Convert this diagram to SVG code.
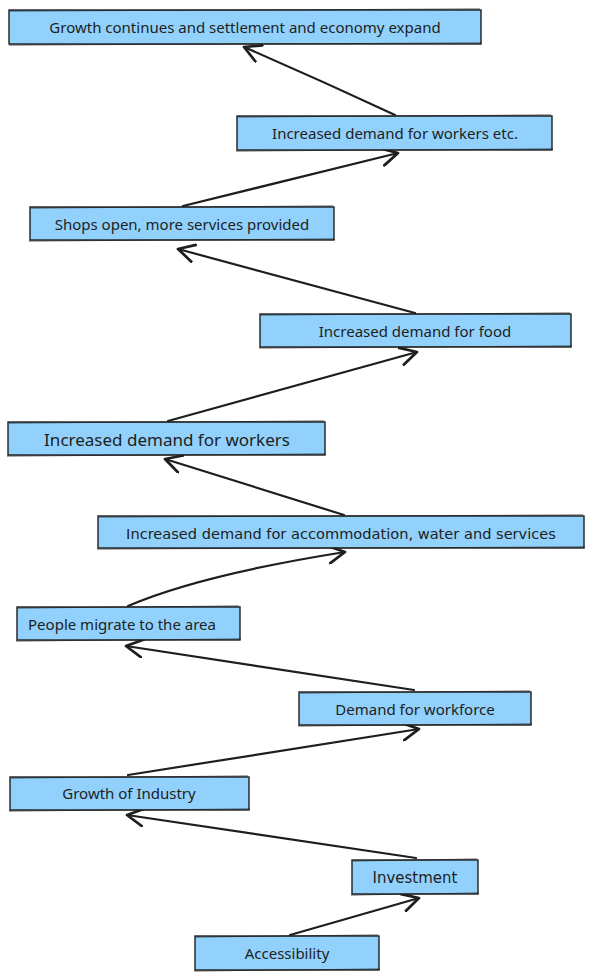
<svg xmlns="http://www.w3.org/2000/svg" width="594" height="980" viewBox="0 0 594 980">
<defs>
<style>
.box{fill:#91d1fb;stroke:#1e1e1e;stroke-width:1.4}
.sk{fill:none;stroke:#1e1e1e;stroke-width:0.8}
.t{font-family:"Noto Sans","Lato",sans-serif;font-size:15px;fill:#1e1e1e;text-anchor:middle;dominant-baseline:central}
.c{font-family:"DejaVu Sans","Noto Sans",sans-serif;font-size:14.6px;fill:#1e1e1e;text-anchor:middle;dominant-baseline:central}
.a{fill:none;stroke:#1e1e1e;stroke-width:2.2;stroke-linecap:round}
</style>
<marker id="ah" markerUnits="userSpaceOnUse" markerWidth="20" markerHeight="20" refX="14" refY="8" orient="auto" viewBox="0 0 16 16">
<path d="M1,1 L14,8 L1,15" fill="none" stroke="#1e1e1e" stroke-width="2.2" stroke-linecap="round" stroke-linejoin="round"/>
</marker>
</defs>
<g id="connectors">
<path class="a" d="M395,115 Q320,80 244,47" marker-end="url(#ah)"/>
<path class="a" d="M183,206 L398,153" marker-end="url(#ah)"/>
<path class="a" d="M415,313 L178,249" marker-end="url(#ah)"/>
<path class="a" d="M168,421 L417,352" marker-end="url(#ah)"/>
<path class="a" d="M344,515 L165,459" marker-end="url(#ah)"/>
<path class="a" d="M128,606 Q200,575 345,552" marker-end="url(#ah)"/>
<path class="a" d="M414,690 L126,646" marker-end="url(#ah)"/>
<path class="a" d="M128,775 L419,729" marker-end="url(#ah)"/>
<path class="a" d="M416,858 L127,815" marker-end="url(#ah)"/>
<path class="a" d="M290,935 L419,898" marker-end="url(#ah)"/>
</g>
<g id="n1"><rect class="box" x="9" y="10" width="472" height="34"/><path class="sk" d="M10,11 L480,9 M9,45 L482,43"/><text class="t" x="245" y="27">Growth continues and settlement and economy expand</text></g>
<g id="n2"><rect class="box" x="237" y="116" width="315" height="34"/><path class="sk" d="M238,117 L551,115 M236,151 L553,149"/><text class="t" x="395" y="133">Increased demand for workers etc.</text></g>
<g id="n3"><rect class="box" x="30" y="207" width="304" height="33"/><path class="sk" d="M31,208 L333,206 M29,241 L335,239"/><text class="t" x="182" y="224">Shops open, more services provided</text></g>
<g id="n4"><rect class="box" x="260" y="314" width="311" height="33"/><path class="sk" d="M261,315 L570,313 M259,348 L572,346"/><text class="t" x="415" y="331">Increased demand for food</text></g>
<g id="n5"><rect class="box" x="8" y="422" width="317" height="33"/><path class="sk" d="M9,423 L324,421 M7,456 L326,454"/><text class="t" x="167" y="439" style="font-size:17px">Increased demand for workers</text></g>
<g id="n6"><rect class="box" x="98" y="516" width="486" height="32"/><path class="sk" d="M99,517 L583,515 M97,549 L585,547"/><text class="c" x="341" y="533">Increased demand for accommodation, water and services</text></g>
<g id="n7"><rect class="box" x="17" y="607" width="223" height="33"/><path class="sk" d="M18,608 L239,606 M16,641 L241,639"/><text class="t" x="122" y="624">People migrate to the area</text></g>
<g id="n8"><rect class="box" x="299" y="692" width="232" height="33"/><path class="sk" d="M300,693 L530,691 M298,726 L532,724"/><text class="t" x="415" y="709">Demand for workforce</text></g>
<g id="n9"><rect class="box" x="10" y="777" width="239" height="33"/><path class="sk" d="M11,778 L248,776 M9,811 L250,809"/><text class="t" x="129" y="793">Growth of Industry</text></g>
<g id="n10"><rect class="box" x="352" y="860" width="126" height="34"/><path class="sk" d="M353,861 L477,859 M351,895 L479,893"/><text class="c" x="415" y="878" style="font-size:15px">Investment</text></g>
<g id="n11"><rect class="box" x="195" y="936" width="184" height="34"/><path class="sk" d="M196,937 L378,935 M194,971 L380,969"/><text class="t" x="287" y="953">Accessibility</text></g>
</svg>
